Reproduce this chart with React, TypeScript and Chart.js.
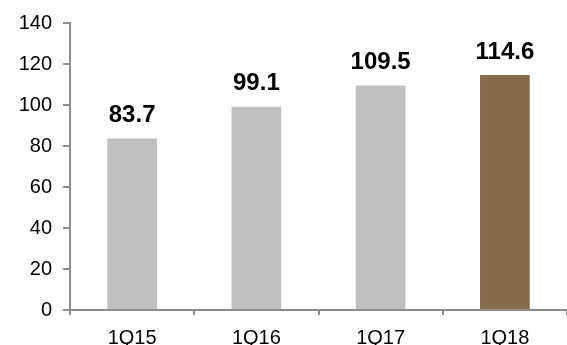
import React, { useEffect, useRef } from "react";
import { Chart, registerables } from "chart.js";

Chart.register(...registerables);

const categories = ["1Q15", "1Q16", "1Q17", "1Q18"];
const values = [83.7, 99.1, 109.5, 114.6];
const barColors = ["#C0C0C0", "#C0C0C0", "#C0C0C0", "#866C4B"];
const yTicks = [0, 20, 40, 60, 80, 100, 120, 140];

const FONT = "'Liberation Sans', Arial, sans-serif";
const AXIS_COLOR = "#8C8C8C";

// Bold value printed above each bar
const valueLabels = {
  id: "valueLabels",
  afterDatasetsDraw(chart: any) {
    const ctx = chart.ctx;
    const meta = chart.getDatasetMeta(0);
    ctx.save();
    ctx.font = `bold 24px ${FONT}`;
    ctx.fillStyle = "#000";
    ctx.textAlign = "center";
    ctx.textBaseline = "alphabetic";
    meta.data.forEach((bar: any, i: number) => {
      ctx.fillText(values[i].toFixed(1), bar.x, bar.y - 16.5);
    });
    ctx.restore();
  },
};

export default function App() {
  const ref = useRef<HTMLCanvasElement>(null);

  useEffect(() => {
    document.body.style.margin = "0";
    const chart = new Chart(ref.current!, {
      type: "bar",
      data: {
        labels: categories,
        datasets: [
          {
            data: values,
            backgroundColor: barColors,
            borderWidth: 0,
            barPercentage: 0.4,
            categoryPercentage: 1,
          },
        ],
      },
      options: {
        animation: false,
        responsive: false,
        devicePixelRatio: 1,
        layout: { padding: { top: 21, right: 0, left: 0, bottom: 0 } },
        plugins: {
          legend: { display: false },
          tooltip: { enabled: false },
        },
        scales: {
          x: {
            afterFit: (s: any) => {
              s.height = 35;
            },
            grid: {
              offset: true,
              drawOnChartArea: false,
              drawTicks: true,
              tickLength: 5,
              color: AXIS_COLOR,
              lineWidth: 2,
            },
            border: { display: true, color: AXIS_COLOR, width: 2 },
            ticks: {
              color: "#000",
              font: { family: FONT, size: 20 },
              padding: 11,
              maxRotation: 0,
            },
          },
          y: {
            min: 0,
            max: 140,
            afterFit: (s: any) => {
              s.width = 70;
            },
            afterBuildTicks: (s: any) => {
              s.ticks = yTicks.map((v) => ({ value: v }));
            },
            grid: {
              drawOnChartArea: false,
              drawTicks: true,
              tickLength: 7,
              color: AXIS_COLOR,
              lineWidth: 2,
            },
            border: { display: true, color: AXIS_COLOR, width: 2 },
            ticks: {
              color: "#000",
              font: { family: FONT, size: 20 },
              padding: 11,
            },
          },
        },
      },
      plugins: [valueLabels],
    });
    return () => chart.destroy();
  }, []);

  return (
    <div style={{ position: "absolute", left: 0, top: 0, width: 567, height: 345, background: "#fff" }}>
      <canvas ref={ref} width={567} height={345} />
    </div>
  );
}
